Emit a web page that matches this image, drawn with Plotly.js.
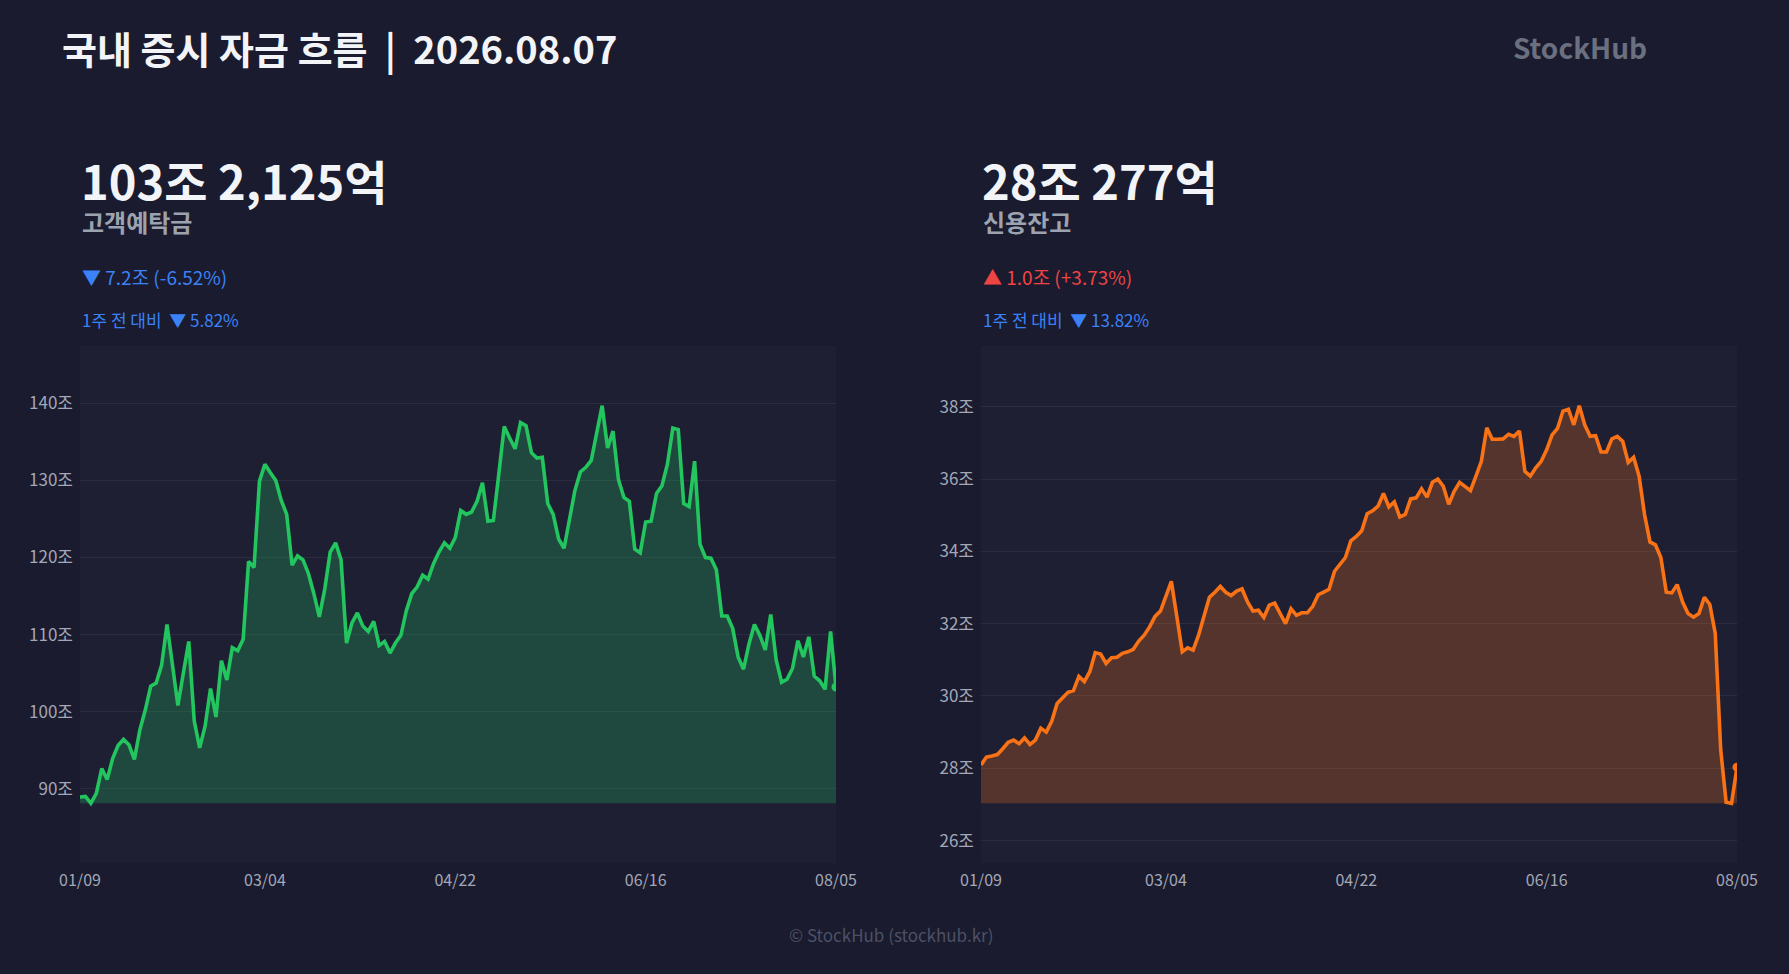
<!DOCTYPE html>
<html>
<head>
<meta charset="utf-8">
<script src="https://cdn.plot.ly/plotly-3.0.1.min.js"></script>
<style>
  html, body { margin: 0; padding: 0; background: #1a1b2e; }
  #chart { width: 1789px; height: 974px; }
</style>
</head>
<body>
<div id="chart"></div>
<script>
// 고객예탁금 (조)
const depositValues = [
  88.9, 89.0, 88.1, 89.4, 92.6, 91.2, 93.9, 95.6, 96.4, 95.7,
  93.8, 97.6, 100.2, 103.3, 103.7, 106.0, 111.3, 105.8, 100.8, 105.0,
  109.1, 98.8, 95.3, 98.1, 103.0, 99.3, 106.6, 104.1, 108.3, 107.9,
  109.4, 119.5, 118.7, 129.9, 132.1, 131.0, 130.0, 127.4, 125.6, 119.0,
  120.2, 119.7, 117.9, 115.3, 112.3, 115.9, 120.7, 121.9, 119.7, 108.9,
  111.5, 112.8, 111.1, 110.4, 111.7, 108.6, 109.1, 107.6, 108.9, 109.9,
  113.1, 115.3, 116.2, 117.7, 117.2, 119.2, 120.7, 121.9, 121.2, 122.6,
  126.1, 125.6, 125.9, 127.3, 129.7, 124.7, 124.8, 130.8, 137.0, 135.5,
  134.1, 137.5, 137.1, 133.6, 132.9, 133.0, 127.0, 125.6, 122.4, 121.2,
  124.8, 128.7, 131.1, 131.7, 132.6, 136.4, 139.7, 134.2, 136.4, 130.1,
  127.8, 127.3, 121.1, 120.6, 124.6, 124.7, 128.3, 129.3, 132.1, 136.8,
  136.6, 127.0, 126.6, 132.5, 121.7, 120.0, 119.9, 118.4, 112.4, 112.4,
  110.8, 107.1, 105.5, 108.8, 111.3, 109.9, 108.0, 112.6, 106.7, 103.8,
  104.2, 105.6, 109.2, 107.1, 109.7, 104.6, 104.0, 102.9, 110.4, 103.2
];

// 신용잔고 (조)
const creditValues = [
  28.09, 28.31, 28.34, 28.38, 28.54, 28.72, 28.78, 28.68, 28.84, 28.66,
  28.78, 29.11, 29.00, 29.30, 29.79, 29.94, 30.10, 30.15, 30.54, 30.40,
  30.67, 31.20, 31.16, 30.90, 31.06, 31.07, 31.18, 31.22, 31.29, 31.52,
  31.68, 31.91, 32.20, 32.35, 32.73, 33.17, 32.20, 31.22, 31.33, 31.27,
  31.68, 32.23, 32.73, 32.87, 33.03, 32.87, 32.78, 32.90, 32.96, 32.60,
  32.35, 32.37, 32.17, 32.51, 32.57, 32.28, 32.00, 32.41, 32.23, 32.30,
  32.30, 32.48, 32.80, 32.87, 32.95, 33.45, 33.63, 33.83, 34.29, 34.41,
  34.57, 35.04, 35.12, 35.25, 35.60, 35.23, 35.37, 34.95, 35.02, 35.45,
  35.48, 35.73, 35.50, 35.91, 36.00, 35.80, 35.30, 35.66, 35.91, 35.80,
  35.68, 36.08, 36.49, 37.42, 37.10, 37.10, 37.11, 37.24, 37.18, 37.33,
  36.21, 36.08, 36.31, 36.49, 36.81, 37.22, 37.40, 37.88, 37.93, 37.50,
  38.03, 37.50, 37.18, 37.20, 36.75, 36.75, 37.11, 37.18, 37.04, 36.46,
  36.60, 36.08, 35.02, 34.26, 34.18, 33.83, 32.87, 32.85, 33.08, 32.60,
  32.28, 32.18, 32.28, 32.73, 32.53, 31.73, 28.52, 27.06, 27.03, 28.03
];

const dateLabels = ["01/09", "03/04", "04/22", "06/16", "08/05"];
const dateTickIndex = [0, 34, 69, 104, 139];

const W = 1789, H = 974;
const px = (x) => x / W;
const py = (y) => 1 - y / H;

const FONT = '"Noto Sans CJK KR", "Noto Sans", sans-serif';
const GREEN = "#22c55e";
const ORANGE = "#f97316";
const BLUE = "#3b82f6";
const RED = "#ef4444";
const NB = "&nbsp;";

function areaTraces(values, xa, ya, color, fill) {
  const xs = values.map((_, i) => i);
  const lo = Math.min(...values);
  const last = values.length - 1;
  return [
    {
      x: xs, y: values.map(() => lo), xaxis: xa, yaxis: ya,
      type: "scatter", mode: "lines", line: { width: 0 },
      hoverinfo: "skip", showlegend: false,
    },
    {
      x: xs, y: values, xaxis: xa, yaxis: ya,
      type: "scatter", mode: "lines", fill: "tonexty", fillcolor: fill,
      line: { color: color, width: 3.6 }, showlegend: false,
    },
    {
      x: [last], y: [values[last]], xaxis: xa, yaxis: ya,
      type: "scatter", mode: "markers",
      marker: { color: color, size: 9 }, showlegend: false,
    },
  ];
}

function paddedRange(values) {
  const lo = Math.min(...values), hi = Math.max(...values);
  const pad = (hi - lo) * 0.15;
  return [lo - pad, hi + pad];
}

const xCommon = {
  range: [0, depositValues.length - 1],
  tickvals: dateTickIndex, ticktext: dateLabels,
  showgrid: false, zeroline: false, showline: false, ticks: "",
  tickfont: { size: 16, color: "#a3a7b7" }, ticklabelstandoff: 6,
  fixedrange: true,
};
const yCommon = {
  showgrid: true, gridcolor: "rgba(255,255,255,0.06)", gridwidth: 1,
  zeroline: false, showline: false, ticks: "", ticksuffix: "조",
  tickfont: { size: 17, color: "#a3a7b7" }, ticklabelstandoff: 6,
  fixedrange: true,
};

function note(text, x, y, size, color, extra) {
  return Object.assign({
    text: text, x: px(x), y: py(y), xref: "paper", yref: "paper",
    xanchor: "left", yanchor: "middle", showarrow: false,
    font: { family: FONT, size: size, color: color },
  }, extra || {});
}

const annotations = [
  note("<b>국내 증시 자금 흐름" + NB + NB + "|" + NB + NB + "2026.08.07</b>", 60, 48, 38, "#f3f4f8"),
  note("<b>StockHub</b>", 1511, 47, 28, "#6b7080"),

  note("<b>103조 2,125억</b>", 79, 180, 47, "#f3f4f8"),
  note("<b>고객예탁금</b>", 80, 221, 24, "#9ca3af"),
  note("▼ 7.2조 (-6.52%)", 80, 277, 19, BLUE),
  note("1주 전 대비" + NB + NB + "▼ 5.82%", 80, 319, 17, BLUE),

  note("<b>28조 277억</b>", 980, 180, 47, "#f3f4f8"),
  note("<b>신용잔고</b>", 981, 221, 24, "#9ca3af"),
  note("▲ 1.0조 (+3.73%)", 981, 277, 19, RED),
  note("1주 전 대비" + NB + NB + "▼ 13.82%", 981, 319, 17, BLUE),

  note("© StockHub (stockhub.kr)", 891, 934, 17, "#4c5165", { xanchor: "center" }),
];

const data = [
  ...areaTraces(depositValues, "x", "y", GREEN, "rgba(34,197,94,0.25)"),
  ...areaTraces(creditValues, "x2", "y2", ORANGE, "rgba(249,115,22,0.25)"),
];

const layout = {
  width: W, height: H,
  margin: { l: 0, r: 0, t: 0, b: 0 },
  paper_bgcolor: "#1a1b2e",
  plot_bgcolor: "#1e1f33",
  font: { family: FONT, color: "#a3a7b7" },
  showlegend: false,
  hovermode: false,
  xaxis: Object.assign({}, xCommon, { domain: [px(80), px(836)], anchor: "y" }),
  yaxis: Object.assign({}, yCommon, {
    domain: [py(863), py(346)], anchor: "x",
    range: paddedRange(depositValues), dtick: 10, tick0: 0,
  }),
  xaxis2: Object.assign({}, xCommon, { domain: [px(981), px(1737)], anchor: "y2" }),
  yaxis2: Object.assign({}, yCommon, {
    domain: [py(863), py(346)], anchor: "x2",
    range: paddedRange(creditValues), dtick: 2, tick0: 0,
  }),
  annotations: annotations,
};

Plotly.newPlot("chart", data, layout, { displayModeBar: false, staticPlot: true });
</script>
</body>
</html>
